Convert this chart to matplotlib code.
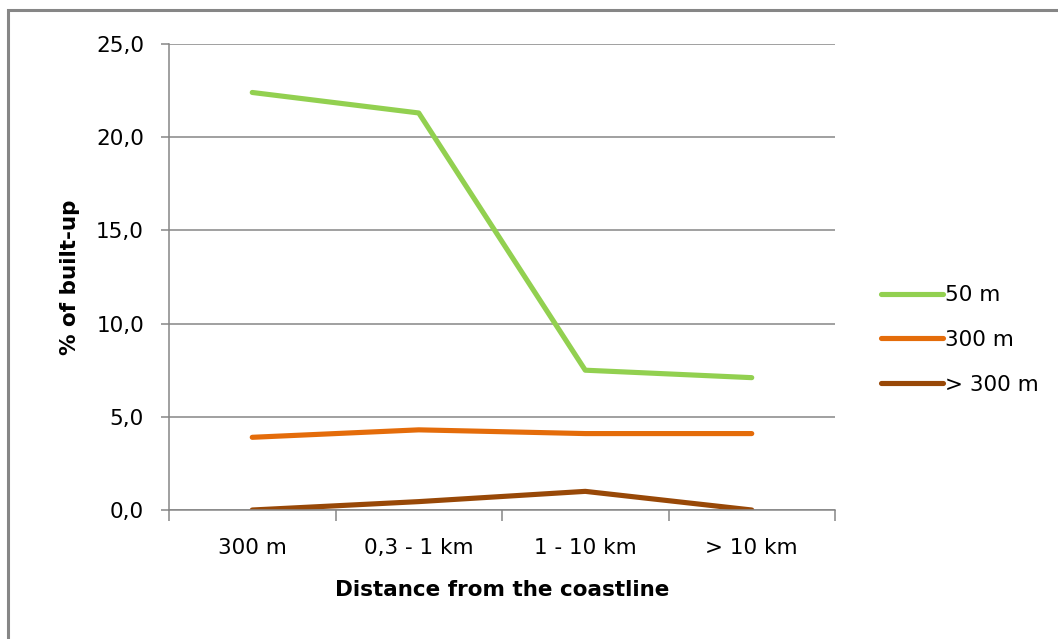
import matplotlib
matplotlib.use("Agg")
import matplotlib.pyplot as plt
from matplotlib.patches import Rectangle
from matplotlib.ticker import FixedLocator, FuncFormatter

categories = ["300 m", "0,3 - 1 km", "1 - 10 km", "> 10 km"]
series_names = ["50 m", "300 m", "> 300 m"]
values_50m = [22.4, 21.3, 7.5, 7.1]
values_300m = [3.9, 4.3, 4.1, 4.1]
values_over300m = [0.0, 0.45, 1.0, 0.0]
colors = ["#92D050", "#E46C0A", "#984807"]
y_ticks = [0, 5, 10, 15, 20, 25]

W, H = 1058, 639
plt.rcParams['font.family'] = ['DejaVu Sans']
fig = plt.figure(figsize=(W / 100, H / 100), dpi=100)
fig.patch.set_facecolor("white")

# outer chart border (only top/left visible in the reference)
fig.patches.append(Rectangle((8 / W, -0.1), 1.2, 1 - 10 / H + 0.1,
                             transform=fig.transFigure, fill=False,
                             edgecolor="#868686", linewidth=2.2))

left, right, top, bottom = 169, 835, 44, 510
ax = fig.add_axes([left / W, 1 - bottom / H, (right - left) / W, (bottom - top) / H])

x = list(range(len(categories)))
for vals, name, c in zip([values_50m, values_300m, values_over300m], series_names, colors):
    ax.plot(x, vals, color=c, linewidth=3.7, solid_capstyle="round",
            solid_joinstyle="round", label=name)

ax.set_xlim(-0.5, len(categories) - 0.5)
ax.set_ylim(0, 25)
ax.set_yticks(y_ticks)
ax.yaxis.set_major_formatter(FuncFormatter(lambda v, p: f"{v:.1f}".replace(".", ",")))
ax.set_xticks(x)
ax.set_xticklabels(categories)
ax.xaxis.set_minor_locator(FixedLocator([i - 0.5 for i in range(len(categories) + 1)]))

ax.grid(axis="y", color="#868686", linewidth=1.1)
ax.set_axisbelow(True)
for s in ["top", "right"]:
    ax.spines[s].set_visible(False)
for s in ["left", "bottom"]:
    ax.spines[s].set_color("#868686")
    ax.spines[s].set_linewidth(1.1)

ax.tick_params(axis="y", which="major", length=6, color="#868686", width=1.1,
               labelsize=15.5, pad=12, labelcolor="#000000")
ax.tick_params(axis="x", which="major", length=0, labelsize=15.5, pad=20)
ax.tick_params(axis="x", which="minor", length=8, color="#868686", width=1.1)

ax.set_xlabel("Distance from the coastline", fontsize=15.5, fontweight="bold")
ax.xaxis.set_label_coords(0.5, -0.151)
ax.set_ylabel("% of built-up", fontsize=15.5, fontweight="bold")
ax.yaxis.set_label_coords(-0.133, 0.5)

leg = ax.legend(loc="center left", bbox_to_anchor=(872 / W, 1 - 340 / H),
                bbox_transform=fig.transFigure, frameon=False, fontsize=15.5,
                handlelength=2.9, handletextpad=0.1, labelspacing=1.15,
                borderaxespad=0)

fig.savefig("out.png", dpi=100, facecolor="white")
